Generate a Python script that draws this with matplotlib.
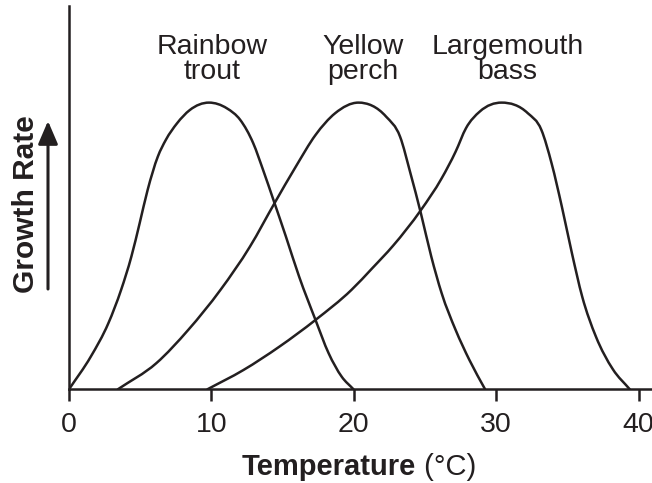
import numpy as np
import matplotlib
matplotlib.use("Agg")
import matplotlib.pyplot as plt
from matplotlib.path import Path
from matplotlib.patches import PathPatch, FancyArrowPatch

plt.rcParams['font.family'] = ['Liberation Sans', 'DejaVu Sans']

# ---- data ----
trout_t = [0.0, 1.53, 2.76, 3.66, 4.38, 4.96, 5.52, 6.24, 6.80, 7.59, 8.48, 9.83,
           11.09, 12.02, 12.94, 13.63, 14.36, 15.23, 16.16, 17.31, 18.23, 19.15, 19.98]
trout_g = [0.0, 0.114, 0.230, 0.347, 0.463, 0.579, 0.695, 0.812, 0.870, 0.928, 0.974, 1.0,
           0.980, 0.940, 0.858, 0.765, 0.660, 0.533, 0.393, 0.242, 0.126, 0.044, 0.0]

perch_t = [3.43, 6.13, 8.37, 10.64, 12.71, 14.43, 15.93, 17.31, 18.69, 20.32,
           22.27, 23.25, 23.98, 24.71, 25.44, 26.17, 27.15, 28.12, 29.22]
perch_g = [0.0, 0.091, 0.207, 0.347, 0.498, 0.649, 0.777, 0.887, 0.963, 1.0,
           0.951, 0.881, 0.753, 0.614, 0.463, 0.335, 0.207, 0.102, 0.0]

bass_t = [9.72, 12.24, 14.78, 17.31, 19.84, 21.29, 22.76, 24.71, 26.17, 27.15, 27.88,
          28.85, 30.38, 32.22, 33.17, 33.89, 34.61, 35.32, 36.04, 37.0, 38.19, 39.38]
bass_g = [0.0, 0.067, 0.149, 0.242, 0.347, 0.422, 0.501, 0.625, 0.736, 0.829, 0.911,
          0.969, 1.0, 0.963, 0.905, 0.788, 0.637, 0.474, 0.323, 0.184, 0.070, 0.0]

species = ["Rainbow\ntrout", "Yellow\nperch", "Largemouth\nbass"]
label_t = [10.05, 20.65, 30.8]
xticks = [0, 10, 20, 30, 40]

INK = '#231f20'


def smooth_path(xs, ys):
    """Cubic Hermite curve (as Bezier path) through the read points."""
    x = np.asarray(xs, float)
    y = np.asarray(ys, float)
    n = len(x)
    h = np.diff(x)
    d = np.diff(y) / h
    m = np.zeros(n)
    m[0] = d[0]
    m[-1] = d[-1]
    for i in range(1, n - 1):
        if d[i - 1] * d[i] <= 0:
            m[i] = 0.0
        else:
            m[i] = (h[i] * d[i - 1] + h[i - 1] * d[i]) / (h[i - 1] + h[i])
    verts = [(x[0], y[0])]
    codes = [Path.MOVETO]
    for i in range(n - 1):
        verts += [(x[i] + h[i] / 3, y[i] + m[i] * h[i] / 3),
                  (x[i + 1] - h[i] / 3, y[i + 1] - m[i + 1] * h[i] / 3),
                  (x[i + 1], y[i + 1])]
        codes += [Path.CURVE4] * 3
    return Path(verts, codes)


fig = plt.figure(figsize=(6.52, 4.83), dpi=100)
ax = fig.add_axes([69 / 652, 93.7 / 483, 1 - 69 / 652, (389.3 - 6) / 483])
ax.set_xlim(0, 40.94)
ax.set_ylim(0, 1.337)

for xs, ys in [(trout_t, trout_g), (perch_t, perch_g), (bass_t, bass_g)]:
    ax.add_patch(PathPatch(smooth_path(xs, ys), facecolor='none',
                           edgecolor=INK, lw=1.8, capstyle='round',
                           joinstyle='round'))

for s, t in zip(species, label_t):
    ax.text(t, 1.24, s, ha='center', va='top', fontsize=20.5, color=INK,
            linespacing=0.98)

for sp in ['top', 'right']:
    ax.spines[sp].set_visible(False)
for sp in ['left', 'bottom']:
    ax.spines[sp].set_linewidth(1.8)
    ax.spines[sp].set_color(INK)

ax.set_xticks(xticks)
ax.set_xticklabels([str(v) for v in xticks])
ax.set_yticks([])
ax.tick_params(axis='x', direction='out', length=8.5, width=1.8, pad=7.5,
               labelsize=20.5, colors=INK)

# x label: bold "Temperature" + regular "(°C)"
fig.canvas.draw()
r = fig.canvas.get_renderer()
t1 = fig.text(0, 0, "Temperature", fontsize=21, fontweight='bold', color=INK)
t2 = fig.text(0, 0, " (°C)", fontsize=21, color=INK)
w1 = t1.get_window_extent(r).width
w2 = t2.get_window_extent(r).width
cx = (69 + 652) / 2.0 - 2
x0 = cx - (w1 + w2) / 2.0
ybase = 483 - 475
t1.set_position((x0 / 652, ybase / 483))
t2.set_position(((x0 + w1) / 652, ybase / 483))
t1.set_va('baseline'); t2.set_va('baseline')

# y label with arrow
fig.text(26 / 652, 1 - 204 / 483, "Growth Rate", rotation=90, fontsize=21.5,
         fontweight='bold', ha='center', va='center', color=INK)
fig.add_artist(FancyArrowPatch(
    (48 / 652, 1 - 289 / 483), (48 / 652, 1 - 121 / 483),
    transform=fig.transFigure, arrowstyle='-|>,head_length=14,head_width=6',
    mutation_scale=1, lw=2.2, color=INK, shrinkA=0, shrinkB=0))

fig.savefig("out.png", dpi=100)
